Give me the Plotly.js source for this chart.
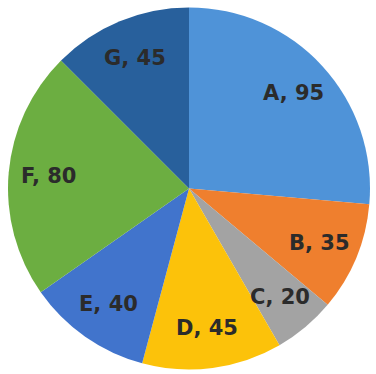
<!DOCTYPE html>
<html>
<head>
<meta charset="utf-8">
<script src="https://cdn.plot.ly/plotly-3.0.1.min.js"></script>
<style>html,body{margin:0;padding:0;background:#fff;}#chart{width:376px;height:374px;}</style>
</head>
<body>
<div id="chart"></div>
<script>
const categories = ['A', 'B', 'C', 'D', 'E', 'F', 'G'];
const values = [95, 35, 20, 45, 40, 80, 45];
const colors = ['#4f93d8', '#ef7f2e', '#a3a3a3', '#fcc20a', '#4174cc', '#6cae41', '#28609c'];

const W = 376, H = 374;
const cx = 189, cy = 188.5, R = 181;   // pixel geometry of the pie
const labelFrac = 0.78;

const total = values.reduce((a, b) => a + b, 0);
let acc = 0;
const annotations = values.map((v, i) => {
  const mid = (acc + v / 2) / total * 2 * Math.PI;
  acc += v;
  const px = cx + labelFrac * R * Math.sin(mid);
  const py = cy - labelFrac * R * Math.cos(mid);
  return {
    x: px / W, y: 1 - py / H, xref: 'paper', yref: 'paper',
    text: categories[i] + ', ' + values[i],
    showarrow: false, xanchor: 'center', yanchor: 'middle',
    font: {family: 'DejaVu Sans', size: 21, color: '#2b2b2b', weight: 'bold'}
  };
});

const trace = {
  type: 'pie',
  labels: categories,
  values: values,
  sort: false,
  direction: 'clockwise',
  rotation: 0,
  textinfo: 'none',
  hoverinfo: 'label+value',
  marker: {colors: colors, line: {color: 'rgba(255,255,255,0)', width: 0}},
  domain: {x: [(cx - R) / W, (cx + R) / W], y: [1 - (cy + R) / H, 1 - (cy - R) / H]}
};

Plotly.newPlot('chart', [trace], {
  width: W, height: H,
  margin: {l: 0, r: 0, t: 0, b: 0},
  showlegend: false,
  paper_bgcolor: '#ffffff',
  annotations: annotations
}, {displayModeBar: false, staticPlot: true});
</script>
</body>
</html>
